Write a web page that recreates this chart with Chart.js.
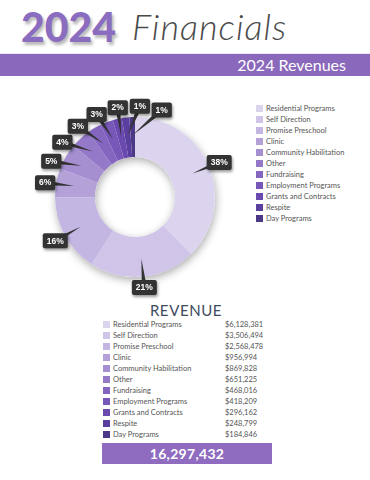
<!DOCTYPE html>
<html>
<head>
<meta charset="utf-8">
<script src="https://cdn.jsdelivr.net/npm/chart.js@4.4.1/dist/chart.umd.min.js"></script>
<style>
  html, body { margin:0; padding:0; }
  body { width:370px; height:480px; position:relative; background:#fff; overflow:hidden; font-family: Lato, "Open Sans", sans-serif; }
  #big { position:absolute; left:21px; top:2px; font-family:Lato, sans-serif; font-weight:900; font-size:41px; color:#8a6cc0; text-shadow:2px 3px 3px rgba(0,0,0,0.28); letter-spacing:0px; }
  #script { position:absolute; left:132px; top:4px; font-family:Lato, sans-serif; font-style:italic; font-weight:300; font-size:36px; color:#4a4a4a; letter-spacing:1px; }
  #band { position:absolute; left:0; top:53px; width:370px; height:22px; background:#8a68bb; border-top:1px solid #ece6f6; }
  #band span { position:absolute; right:24px; top:0; line-height:22px; font-size:16px; color:#fff; }
  #chartBox { position:absolute; left:0; top:85px; width:250px; height:215px; }
  #legend { position:absolute; left:256px; top:103px; margin:0; padding:0; list-style:none; }
  #legend li { height:11px; line-height:11px; font-size:7.5px; color:#555; display:flex; align-items:center; white-space:nowrap; }
  .sw { display:inline-block; width:7px; height:7px; margin-right:3px; flex:none; }
  #revTitle { position:absolute; left:0; width:372px; top:301px; text-align:center; font-size:15px; color:#3e4b5e; letter-spacing:0.6px; }
  #table { position:absolute; left:103px; top:319px; }
  #table .row { position:relative; height:11px; line-height:11px; font-size:7.5px; color:#555; width:170px; }
  #table .row .sw { position:absolute; left:0; top:2px; }
  #table .row .nm { position:absolute; left:10px; }
  #table .row .vl { position:absolute; left:122px; }
  #total { position:absolute; left:102px; top:443px; width:170px; height:21px; background:#8f6cc0; color:#fff; text-align:center; line-height:21px; font-size:14px; font-weight:700; letter-spacing:0.3px; }
</style>
</head>
<body>
<div id="big">2024</div>
<div id="script">Financials</div>
<div id="band"><span>2024 Revenues</span></div>
<div id="chartBox"><canvas id="c" width="250" height="215"></canvas></div>
<ul id="legend"></ul>
<div id="revTitle">REVENUE</div>
<div id="table"></div>
<div id="total"></div>
<script>
const categories = ['Residential Programs','Self Direction','Promise Preschool','Clinic','Community Habilitation','Other','Fundraising','Employment Programs','Grants and Contracts','Respite','Day Programs'];
const revenues = [6128381, 3506494, 2568478, 956994, 869828, 651225, 468016, 418209, 296162, 248799, 184846];
const percentLabels = ['38%','21%','16%','6%','5%','4%','3%','3%','2%','1%','1%'];
const sliceColors = ['#dcd4ee','#d0c5e8','#c4b6e2','#b3a1d8','#a58fd0','#9479c8','#8466c0','#7757b8','#6a4aae','#5b3f9e','#4b3886'];

const fmt = v => v.toLocaleString('en-US');

// legend
const legend = document.getElementById('legend');
categories.forEach((c, i) => {
  const li = document.createElement('li');
  li.innerHTML = '<span class="sw" style="background:' + sliceColors[i] + '"></span>' + c;
  legend.appendChild(li);
});
// table
const table = document.getElementById('table');
categories.forEach((c, i) => {
  const r = document.createElement('div');
  r.className = 'row';
  r.innerHTML = '<span class="sw" style="background:' + sliceColors[i] + '"></span><span class="nm">' + c + '</span><span class="vl">$' + fmt(revenues[i]) + '</span>';
  table.appendChild(r);
});
document.getElementById('total').textContent = fmt(revenues.reduce((a, b) => a + b, 0));

const ringShadow = {
  id: 'ringShadow',
  beforeDatasetsDraw(chart) {
    const arc = chart.getDatasetMeta(0).data[0];
    if (!arc) return;
    const ctx = chart.ctx;
    ctx.save();
    ctx.shadowColor = 'rgba(0,0,0,0.32)';
    ctx.shadowBlur = 8;
    ctx.shadowOffsetX = 1;
    ctx.shadowOffsetY = 3;
    ctx.fillStyle = '#ffffff';
    ctx.beginPath();
    ctx.arc(arc.x, arc.y, arc.outerRadius, 0, Math.PI * 2);
    ctx.arc(arc.x, arc.y, arc.innerRadius, 0, Math.PI * 2, true);
    ctx.fill();
    ctx.restore();
  }
};

const callouts = {
  id: 'callouts',
  afterDatasetsDraw(chart) {
    const meta = chart.getDatasetMeta(0);
    const arcs = meta.data;
    const ctx = chart.ctx;
    const sep = 14 * Math.PI / 180;
    const mids = arcs.map(a => (a.startAngle + a.endAngle) / 2);
    // cluster-based spreading of label angles
    let clusters = mids.map((m, i) => ({ ids: [i], desired: [m] }));
    const startOf = cl => cl.desired.reduce((s, v) => s + v, 0) / cl.desired.length - (cl.desired.length - 1) / 2 * sep;
    let merged = true;
    while (merged) {
      merged = false;
      for (let j = 0; j < clusters.length - 1; j++) {
        const a = clusters[j], b = clusters[j + 1];
        const endA = startOf(a) + (a.ids.length - 1) * sep;
        if (startOf(b) - endA < sep) {
          clusters.splice(j, 2, { ids: a.ids.concat(b.ids), desired: a.desired.concat(b.desired) });
          merged = true;
          break;
        }
      }
    }
    const labelAngles = [];
    clusters.forEach(cl => {
      const s = startOf(cl);
      cl.ids.forEach((id, k) => { labelAngles[id] = s + k * sep; });
    });

    ctx.save();
    ctx.font = 'bold 8.5px "Liberation Sans", Arial, sans-serif';
    arcs.forEach((a, i) => {
      const R = a.outerRadius, r0 = a.innerRadius;
      const tipR = r0 + 0.55 * (R - r0);
      const tx = a.x + Math.cos(mids[i]) * tipR;
      const ty = a.y + Math.sin(mids[i]) * tipR;
      const lr = R + 11;
      const bx = a.x + Math.cos(labelAngles[i]) * lr;
      const by = a.y + Math.sin(labelAngles[i]) * lr;
      const txt = percentLabels[i];
      const w = ctx.measureText(txt).width + 8;
      const h = 15;
      // tail
      const dx = tx - bx, dy = ty - by;
      const len = Math.hypot(dx, dy) || 1;
      const nx = -dy / len, ny = dx / len;
      ctx.fillStyle = '#333333';
      ctx.beginPath();
      ctx.moveTo(bx + nx * 2.5, by + ny * 2.5);
      ctx.lineTo(tx, ty);
      ctx.lineTo(bx - nx * 2.5, by - ny * 2.5);
      ctx.closePath();
      ctx.fill();
      // box
      ctx.save();
      ctx.shadowColor = 'rgba(0,0,0,0.4)';
      ctx.shadowBlur = 3;
      ctx.shadowOffsetX = 1;
      ctx.shadowOffsetY = 2;
      ctx.fillStyle = '#333333';
      ctx.beginPath();
      ctx.roundRect(bx - w / 2, by - h / 2, w, h, 2);
      ctx.fill();
      ctx.restore();
      ctx.fillStyle = '#ffffff';
      ctx.textAlign = 'center';
      ctx.textBaseline = 'middle';
      ctx.fillText(txt, bx, by + 0.5);
    });
    ctx.restore();
  }
};

new Chart(document.getElementById('c'), {
  type: 'doughnut',
  data: {
    labels: categories,
    datasets: [{ data: revenues, backgroundColor: sliceColors, borderWidth: 0, hoverOffset: 0 }]
  },
  options: {
    responsive: false,
    animation: false,
    cutout: '50%',
    layout: { padding: { left: 55, right: 35, top: 32, bottom: 23 } },
    plugins: { legend: { display: false }, tooltip: { enabled: false } }
  },
  plugins: [ringShadow, callouts]
});
</script>
</body>
</html>
